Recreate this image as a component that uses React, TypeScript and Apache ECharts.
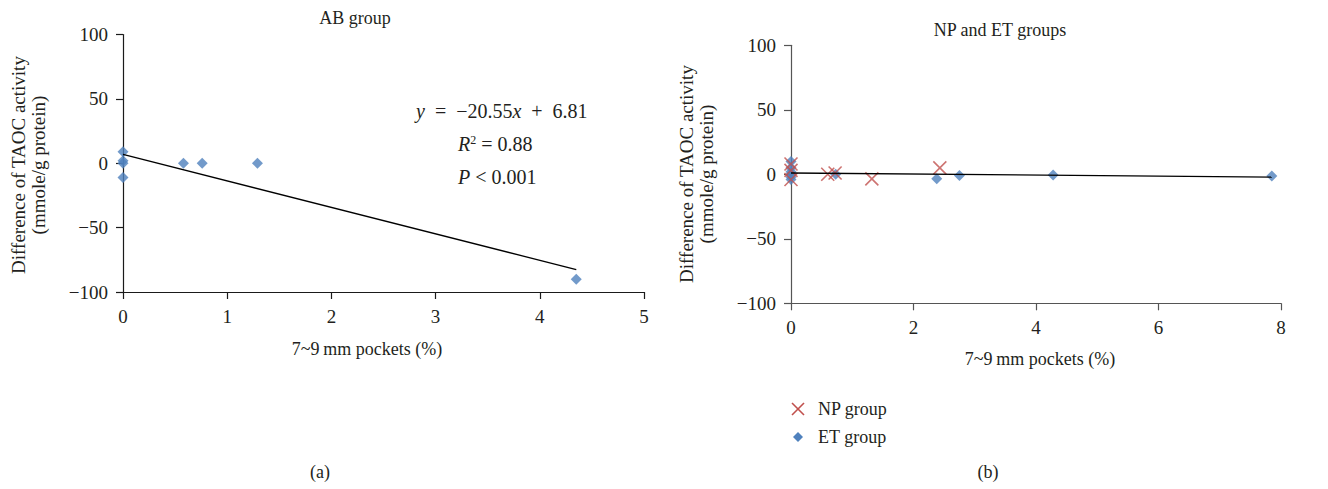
import React, { useEffect, useRef } from "react";
import * as echarts from "echarts";

// Panel (a): AB group
const AB_X = [0, 0, 0, 0, 0.58, 0.76, 1.29, 4.35];
const AB_Y = [9, 2, 0, -11, 0, 0, 0, -90];
const AB_TREND = [[0, 6.81], [4.35, -82.58]];
const AB_X_TICKS = [0, 1, 2, 3, 4, 5];
const Y_TICKS = [-100, -50, 0, 50, 100];

// Panel (b): NP and ET groups
const NP_X = [0, 0, 0, 0.6, 0.72, 1.32, 2.43];
const NP_Y = [8, 3, -4, 0, 1, -3.5, 5];
const ET_X = [0, 0, 0, 0, 0, 0, 0.73, 2.38, 2.75, 4.28, 7.85];
const ET_Y = [10, 5, 2, 0, -2, -4, 0, -3.5, -1, -0.5, -1.3];
const NPET_TREND = [[0, 1], [7.85, -2.2]];
const NPET_X_TICKS = [0, 2, 4, 6, 8];

const FONT = "'Liberation Serif', 'Times New Roman', serif";
const BLUE = "#4F81BD";
const RED = "#C0504D";
const TXT = "#231f20";

const fmt = (v: number) => (v < 0 ? "\u2212" + Math.abs(v) : String(v));
const pairs = (xs: number[], ys: number[]) => xs.map((x, i) => [x, ys[i]]);

export default function App() {
  const ref = useRef<HTMLDivElement>(null);
  useEffect(() => {
    if (!ref.current) return;
    const chart = echarts.init(ref.current, null, { renderer: "svg" });
    const axisCommon = (color: string) => ({
      axisLine: { show: true, onZero: false, lineStyle: { color, width: 1.2 } },
      axisTick: { show: true, inside: false, length: 7, lineStyle: { color, width: 1.2 } },
      splitLine: { show: false },
      axisLabel: { fontFamily: FONT, fontSize: 19, color: TXT, formatter: fmt, margin: 15 },
    });
    const yTick = Y_TICKS;
    const t = (text: string, x: number, y: number, size = 18, extra: any = {}) => ({
      type: "text", x, y, ...extra,
      style: { text, font: `${size}px ${FONT}`, fill: TXT, align: extra.align || "center", verticalAlign: "middle", lineHeight: 20 },
    });
    const it = { fontStyle: "italic", fontFamily: FONT, fontSize: 20, fill: TXT };
    const option: any = {
      animation: false,
      grid: [
        { left: 123, top: 34.5, width: 521, height: 257.5 },
        { left: 791, top: 45.3, width: 490, height: 258 },
      ],
      xAxis: [
        {
          gridIndex: 0, type: "value", min: AB_X_TICKS[0], max: AB_X_TICKS[AB_X_TICKS.length - 1], interval: 1,
          ...axisCommon("#1a1a1a"),
        },
        {
          gridIndex: 1, type: "value", min: NPET_X_TICKS[0], max: NPET_X_TICKS[NPET_X_TICKS.length - 1], interval: 2,
          ...axisCommon("#555"),
        },
      ],
      yAxis: [
        {
          gridIndex: 0, type: "value", min: yTick[0], max: yTick[yTick.length - 1], interval: 50,
          ...axisCommon("#1a1a1a"),
        },
        {
          gridIndex: 1, type: "value", min: yTick[0], max: yTick[yTick.length - 1], interval: 50,
          ...axisCommon("#555"),
        },
      ],
      series: [
        {
          name: "AB group", type: "scatter", xAxisIndex: 0, yAxisIndex: 0,
          symbol: "diamond", symbolSize: [11, 11], itemStyle: { color: BLUE },
          data: pairs(AB_X, AB_Y), z: 3,
        },
        {
          name: "AB trend", type: "line", xAxisIndex: 0, yAxisIndex: 0, showSymbol: false, silent: true,
          lineStyle: { color: "#000", width: 1.3 }, data: AB_TREND, z: 4,
        },
        {
          name: "ET group", type: "scatter", xAxisIndex: 1, yAxisIndex: 1,
          symbol: "diamond", symbolSize: [11, 11], itemStyle: { color: BLUE },
          data: pairs(ET_X, ET_Y), z: 3,
        },
        {
          name: "NP group", type: "scatter", xAxisIndex: 1, yAxisIndex: 1,
          symbol: "path://M0,0L10,10M10,0L0,10", symbolSize: [13, 13],
          itemStyle: { color: "rgba(0,0,0,0)", borderColor: RED, borderWidth: 1.6 },
          data: pairs(NP_X, NP_Y), z: 4,
        },
        {
          name: "NPET trend", type: "line", xAxisIndex: 1, yAxisIndex: 1, showSymbol: false, silent: true,
          lineStyle: { color: "#000", width: 1.3 }, data: NPET_TREND, z: 5,
        },
      ],
      graphic: [
        t("AB group", 355, 18),
        t("NP and ET groups", 1000, 30),
        t("Difference of TAOC activity\n(mmole/g protein)", 28, 165, 19, { rotation: Math.PI / 2 }),
        t("Difference of TAOC activity\n(mmole/g protein)", 696, 174, 19, { rotation: Math.PI / 2 }),
        t("7~9\u2009mm pockets (%)", 367, 349),
        t("7~9\u2009mm pockets (%)", 1040, 359),
        {
          type: "text", x: 416, y: 111,
          style: {
            text: "{i|y}\u2002=\u2002\u221220.55{i|x}\u2002+\u20026.81",
            rich: { i: it },
            font: `20px ${FONT}`, fill: TXT, align: "left", verticalAlign: "middle",
          },
        },
        {
          type: "text", x: 458, y: 144,
          style: {
            text: "{i|R}{s|2} = 0.88",
            rich: {
              i: it,
              s: { fontFamily: FONT, fontSize: 12, fill: TXT, verticalAlign: "top", padding: [0, 0, 9, 0] },
            },
            font: `20px ${FONT}`, fill: TXT, align: "left", verticalAlign: "middle",
          },
        },
        {
          type: "text", x: 458, y: 177,
          style: {
            text: "{i|P} < 0.001",
            rich: { i: it },
            font: `20px ${FONT}`, fill: TXT, align: "left", verticalAlign: "middle",
          },
        },
        // legend
        { type: "line", shape: { x1: 792, y1: 403, x2: 804, y2: 415 }, style: { stroke: RED, lineWidth: 1.6 } },
        { type: "line", shape: { x1: 804, y1: 403, x2: 792, y2: 415 }, style: { stroke: RED, lineWidth: 1.6 } },
        t("NP group", 818, 409, 18, { align: "left" }),
        { type: "polygon", shape: { points: [[798, 432], [803, 437], [798, 442], [793, 437]] }, style: { fill: BLUE } },
        t("ET group", 818, 437, 18, { align: "left" }),
        t("(a)", 320, 472),
        t("(b)", 988, 472),
      ],
    };
    chart.setOption(option);
    return () => chart.dispose();
  }, []);
  return (
    <div
      ref={ref}
      style={{ position: "absolute", left: 0, top: 0, width: 1328, height: 489, background: "#fff" }}
    />
  );
}
